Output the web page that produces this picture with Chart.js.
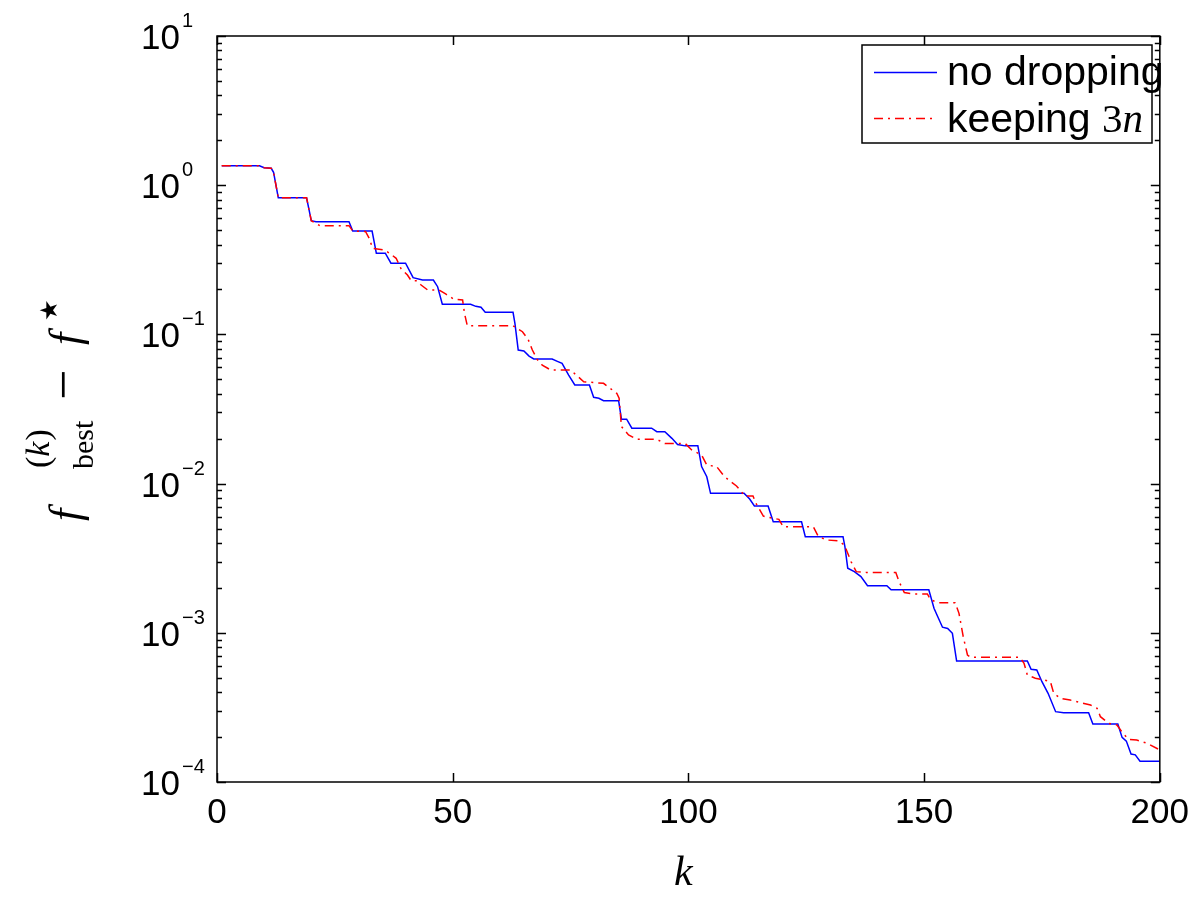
<!DOCTYPE html>
<html>
<head>
<meta charset="utf-8">
<script src="https://cdn.jsdelivr.net/npm/chart.js@4.4.1/dist/chart.umd.min.js"></script>
<style>
  html, body { margin: 0; padding: 0; background: #ffffff; }
  #wrap { width: 1199px; height: 903px; position: relative; }
</style>
</head>
<body>
<div id="wrap"><canvas id="c" width="1199" height="903"></canvas></div>
<script>
// ---- data ----
const kNoDrop = [1, 9, 10, 11.5, 12, 13, 19, 20, 21, 28, 28.8, 32.9, 33.8, 35.7, 36.9, 40, 41.6, 43.6, 45.9, 46.8, 47.8, 53.8, 54.9, 56, 56.9, 62.8, 63.2, 63.9, 65.1, 66.2, 67.2, 71.1, 72.2, 73.2, 74.6, 75.9, 79, 79.9, 81, 82, 85.2, 85.8, 86.9, 88, 92.2, 93.3, 95, 96.5, 97.7, 99.3, 102, 102.8, 103.9, 104.7, 111.8, 113, 114, 116.9, 118, 124, 124.8, 132.8, 133.2, 133.8, 135.2, 136.6, 138, 142.1, 143, 151, 152.1, 152.9, 153.9, 155, 156, 156.9, 171.9, 172.7, 173.9, 175, 176.3, 177.9, 179.6, 184.9, 185.8, 191.1, 192, 192.9, 193.9, 194.8, 195.8, 200];
const fNoDrop = [1.351, 1.351, 1.310, 1.298, 1.220, 0.824, 0.824, 0.578, 0.569, 0.569, 0.493, 0.493, 0.350, 0.350, 0.300, 0.300, 0.240, 0.2315, 0.2315, 0.2088, 0.1591, 0.1591, 0.1542, 0.1519, 0.1406, 0.1406, 0.1187, 0.0786, 0.0774, 0.0716, 0.0684, 0.0684, 0.0660, 0.0640, 0.0534, 0.0458, 0.0458, 0.0379, 0.0373, 0.0359, 0.0359, 0.0270, 0.0270, 0.0235, 0.0235, 0.0223, 0.0223, 0.0201, 0.0183, 0.0179, 0.0179, 0.0130, 0.01112, 0.00861, 0.00861, 0.00788, 0.00708, 0.00708, 0.00555, 0.00555, 0.00441, 0.00441, 0.00378, 0.00271, 0.00257, 0.00238, 0.00207, 0.00207, 0.00194, 0.00194, 0.00146, 0.00128, 0.00109, 0.00107, 0.000992, 0.000647, 0.000647, 0.000569, 0.000563, 0.000470, 0.000393, 0.000296, 0.000291, 0.000291, 0.000245, 0.000245, 0.000199, 0.000188, 0.000154, 0.000152, 0.000138, 0.000138];

const kKeep = [1, 9, 10, 11.5, 12, 13, 19, 20, 21.8, 28, 28.8, 31.5, 32.3, 33, 35.5, 36.6, 38, 39, 40.4, 41.2, 42.4, 43.3, 44.7, 47.1, 48.5, 50.3, 52.1, 52.5, 53.1, 62.8, 64.8, 66, 66.9, 67.9, 69, 70.8, 75, 77.8, 82, 84.8, 85.3, 85.8, 87.3, 89.1, 93.3, 95, 99.3, 100.7, 102.8, 103.9, 106, 107.4, 108.5, 110.2, 112, 113.7, 114.4, 115.9, 116.9, 119.2, 120.1, 126.5, 127.5, 129.2, 131.7, 133.1, 134.5, 135.6, 137.7, 144, 144.7, 145.8, 147.9, 150.7, 151.4, 153.2, 156.6, 157.4, 158.3, 159.2, 159.9, 170.3, 171.2, 171.9, 173.6, 175.4, 176.8, 177.5, 178.9, 181, 183.2, 185.3, 186.7, 187.4, 189.2, 190.9, 192.2, 193.4, 195.1, 197.3, 200];
const fKeep = [1.351, 1.351, 1.310, 1.298, 1.220, 0.824, 0.824, 0.578, 0.5355, 0.5355, 0.493, 0.4894, 0.4405, 0.3777, 0.3679, 0.350, 0.3237, 0.2773, 0.2501, 0.2291, 0.2291, 0.2144, 0.1984, 0.1984, 0.1866, 0.1719, 0.1701, 0.1385, 0.1144, 0.1144, 0.1042, 0.0927, 0.0786, 0.0681, 0.0623, 0.0577, 0.0577, 0.0482, 0.0470, 0.0403, 0.0373, 0.0241, 0.0212, 0.0198, 0.0198, 0.0186, 0.0186, 0.0168, 0.01555, 0.01333, 0.0130, 0.01141, 0.01057, 0.00964, 0.00826, 0.00826, 0.00730, 0.00606, 0.00594, 0.00576, 0.00514, 0.00514, 0.00446, 0.00419, 0.00414, 0.00388, 0.00300, 0.00257, 0.00254, 0.00254, 0.00220, 0.00186, 0.00182, 0.00182, 0.00166, 0.00159, 0.00159, 0.00135, 0.000942, 0.000710, 0.000685, 0.000685, 0.000625, 0.000521, 0.000496, 0.000483, 0.000470, 0.000393, 0.000364, 0.000354, 0.000340, 0.000328, 0.000312, 0.000274, 0.000247, 0.000241, 0.000212, 0.000193, 0.000191, 0.000182, 0.000164];

const seriesNames = ['no dropping', 'keeping 3n'];
const xTickValues = [0, 50, 100, 150, 200];
const yDecadeExponents = [-4, -3, -2, -1, 0, 1];

// ---- drawing ----
const BLUE = '#0000ff';
const RED = '#ff0000';
const RED_DASH = [9, 5, 2, 5];

function toPoints(ks, vs) { return ks.map((k, i) => ({ x: k, y: vs[i] })); }

const decorPlugin = {
  id: 'decor',
  afterDatasetsDraw(chart) {
    const ctx = chart.ctx;
    const a = chart.chartArea;
    const xs = chart.scales.x, ys = chart.scales.y;
    ctx.save();
    ctx.strokeStyle = '#000';
    ctx.lineWidth = 1.5;
    // frame
    ctx.strokeRect(a.left, a.top, a.right - a.left, a.bottom - a.top);
    // x ticks (inward, bottom & top)
    ctx.beginPath();
    xTickValues.forEach(v => {
      const px = Math.round(xs.getPixelForValue(v)) + 0.5;
      ctx.moveTo(px, a.bottom); ctx.lineTo(px, a.bottom - 9);
      ctx.moveTo(px, a.top); ctx.lineTo(px, a.top + 9);
    });
    // y ticks major + minor
    for (let e = -4; e <= 1; e++) {
      for (let m = 1; m <= 9; m++) {
        const v = m * Math.pow(10, e);
        if (v > 10.0001) continue;
        const py = Math.round(ys.getPixelForValue(v)) + 0.5;
        const len = (m === 1) ? 9 : 5;
        ctx.moveTo(a.left, py); ctx.lineTo(a.left + len, py);
        ctx.moveTo(a.right, py); ctx.lineTo(a.right - len, py);
      }
    }
    ctx.stroke();

    // y tick labels 10^e
    ctx.fillStyle = '#000';
    ctx.textAlign = 'left';
    ctx.textBaseline = 'alphabetic';
    yDecadeExponents.forEach(e => {
      const py = ys.getPixelForValue(Math.pow(10, e));
      ctx.font = '35px "Liberation Sans", Arial, sans-serif';
      ctx.fillText('10', 141, py + 13);
      ctx.font = '20px "Liberation Sans", Arial, sans-serif';
      ctx.fillText(e < 0 ? '\u2212' + Math.abs(e) : String(e), 182, py - 9);
    });

    // x axis title: k
    ctx.font = 'italic 42px "Liberation Serif", "DejaVu Serif", serif';
    ctx.textAlign = 'center';
    ctx.fillText('k', (a.left + a.right) / 2 - 5, 885);

    // y axis title: f_best^(k) − f^⋆ (rotated)
    ctx.save();
    ctx.translate(80, 525);
    ctx.rotate(-Math.PI / 2);
    ctx.textAlign = 'left';
    ctx.font = 'italic 44px "Liberation Serif", serif';
    ctx.fillText('f', 4, 0);
    ctx.font = '34px "Liberation Serif", serif';
    let t = 57;
    ctx.fillText('(', t, -31); t += ctx.measureText('(').width;
    ctx.font = 'italic 34px "Liberation Serif", serif';
    ctx.fillText('k', t, -31); t += ctx.measureText('k').width + 1;
    ctx.font = '34px "Liberation Serif", serif';
    ctx.fillText(')', t, -31);
    ctx.font = '30px "Liberation Serif", serif';
    ctx.fillText('best', 56, 13);
    ctx.font = '54px "Liberation Serif", serif';
    ctx.fillText('\u2212', 125, 1);
    ctx.font = 'italic 44px "Liberation Serif", serif';
    ctx.fillText('f', 180, 0);
    ctx.font = '24px "DejaVu Sans", sans-serif';
    ctx.fillText('\u2605', 204, -23);
    ctx.restore();

    // legend
    const lx = 862, ly = 45, lw = 290, lh = 98;
    ctx.fillStyle = '#fff';
    ctx.fillRect(lx, ly, lw, lh);
    ctx.strokeStyle = '#000';
    ctx.lineWidth = 1.5;
    ctx.strokeRect(lx, ly, lw, lh);
    // sample lines
    ctx.lineWidth = 1.5;
    ctx.strokeStyle = BLUE;
    ctx.setLineDash([]);
    ctx.beginPath(); ctx.moveTo(874, 72.5); ctx.lineTo(937, 72.5); ctx.stroke();
    ctx.strokeStyle = RED;
    ctx.setLineDash(RED_DASH);
    ctx.beginPath(); ctx.moveTo(874, 118.5); ctx.lineTo(937, 118.5); ctx.stroke();
    ctx.setLineDash([]);
    ctx.fillStyle = '#000';
    ctx.textAlign = 'left';
    ctx.font = '41px "Liberation Sans", Arial, sans-serif';
    ctx.fillText(seriesNames[0], 947, 85);
    const base2 = 'keeping ';
    ctx.fillText(base2, 947, 132);
    let tx = 947 + ctx.measureText(base2).width;
    ctx.font = '41px "Liberation Serif", serif';
    ctx.fillText('3', tx, 132); tx += ctx.measureText('3').width;
    ctx.font = 'italic 41px "Liberation Serif", serif';
    ctx.fillText('n', tx, 132);
    ctx.restore();
  }
};

new Chart(document.getElementById('c'), {
  type: 'line',
  data: {
    datasets: [
      {
        label: seriesNames[0],
        data: toPoints(kNoDrop, fNoDrop),
        borderColor: BLUE,
        borderWidth: 1.5,
        pointRadius: 0,
        tension: 0,
        fill: false,
        order: 1
      },
      {
        label: seriesNames[1],
        data: toPoints(kKeep, fKeep),
        borderColor: RED,
        borderWidth: 1.5,
        borderDash: RED_DASH,
        pointRadius: 0,
        tension: 0,
        fill: false,
        order: 0
      }
    ]
  },
  options: {
    responsive: false,
    animation: false,
    devicePixelRatio: 1,
    parsing: true,
    layout: { padding: { top: 36, right: 36, left: 0, bottom: 0 } },
    plugins: { legend: { display: false }, tooltip: { enabled: false } },
    scales: {
      x: {
        type: 'linear',
        min: 0, max: 200,
        grid: { display: false, drawTicks: false },
        border: { display: false },
        ticks: {
          stepSize: 50,
          padding: 10,
          color: '#000',
          font: { family: '"Liberation Sans", Arial, sans-serif', size: 35 },
          maxRotation: 0
        },
        afterFit(scale) { scale.height = 121; }
      },
      y: {
        type: 'logarithmic',
        min: 1e-4, max: 10,
        grid: { display: false, drawTicks: false },
        border: { display: false },
        ticks: { display: false },
        afterFit(scale) { scale.width = 217; }
      }
    }
  },
  plugins: [decorPlugin]
});
</script>
</body>
</html>
